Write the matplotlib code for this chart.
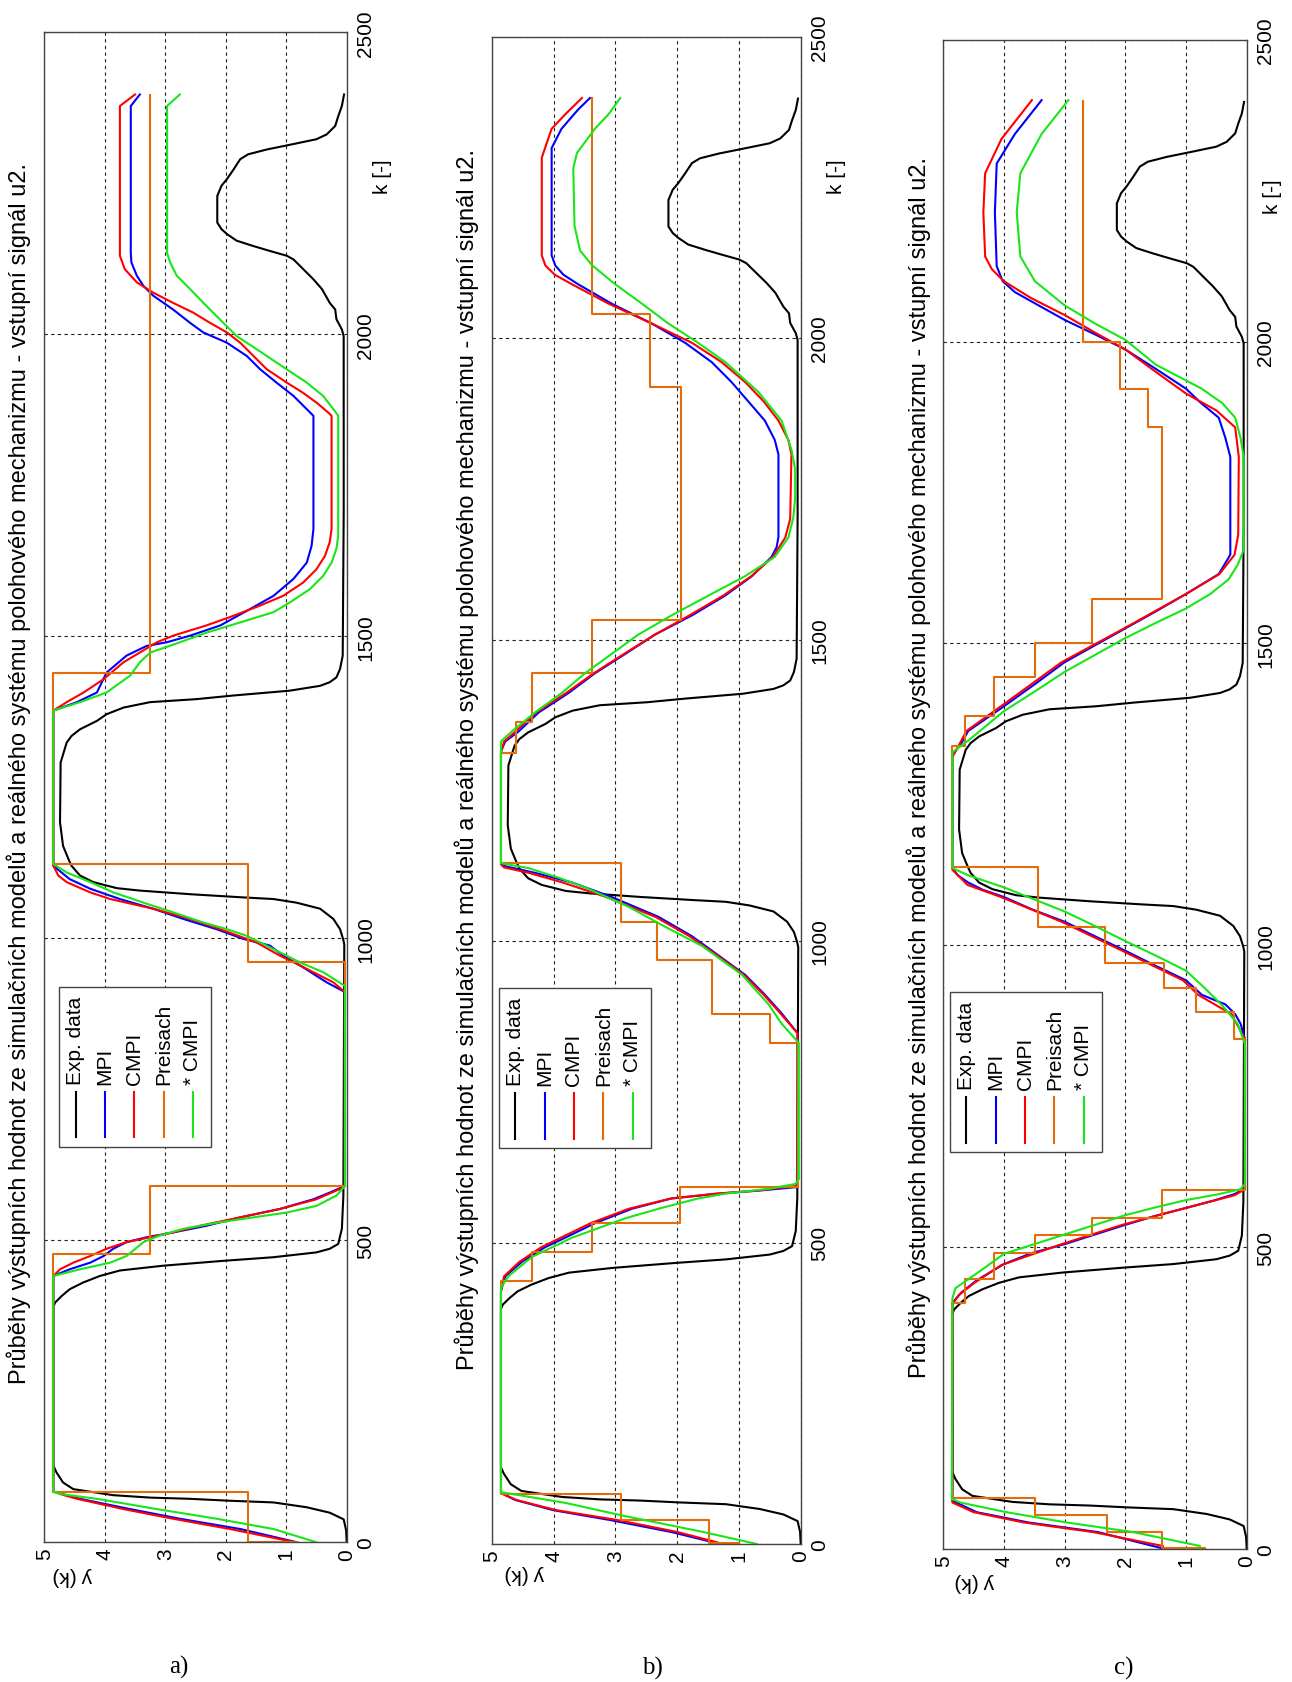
import matplotlib
matplotlib.use("Agg")
import matplotlib.pyplot as plt
import numpy as np
from matplotlib.lines import Line2D
from matplotlib.patches import Rectangle

W, H = 1292, 1683

title = ("Průběhy výstupních hodnot ze simulačních modelů a reálného systému "
         "polohového mechanizmu - vstupní signál u2.")
legend_names = ["Exp. data", "MPI", "CMPI", "Preisach", "* CMPI"]
y_ticks = [0, 1, 2, 3, 4, 5]
k_ticks = [0, 500, 1000, 1500, 2000, 2500]
panel_tags = ["a)", "b)", "c)"]

# measured response (same in all three panels): (k, y)
exp_data = [(0, 0.0), (20, 0.01), (38, 0.05), (49, 0.28), (58, 0.66), (66, 1.21), (69, 1.98),
            (72, 2.59), (74, 3.25), (78, 3.86), (83, 4.19), (88, 4.52), (99, 4.69), (116, 4.8),
            (127, 4.85), (390, 4.85), (397, 4.82), (408, 4.71), (419, 4.58), (430, 4.36),
            (441, 4.08), (450, 3.75), (458, 3.03), (466, 2.04), (472, 1.21), (480, 0.5),
            (486, 0.28), (494, 0.14), (519, 0.08), (574, 0.055), (990, 0.04), (999, 0.06),
            (1015, 0.11), (1032, 0.22), (1049, 0.44), (1059, 0.83), (1065, 1.21), (1068, 1.76),
            (1070, 2.09), (1073, 2.59), (1079, 3.42), (1083, 3.8), (1093, 4.19), (1104, 4.41),
            (1120, 4.55), (1131, 4.6), (1153, 4.69), (1192, 4.74), (1291, 4.73), (1324, 4.63),
            (1335, 4.55), (1346, 4.41), (1360, 4.13), (1371, 3.97), (1382, 3.69), (1391, 3.25),
            (1396, 2.48), (1402, 1.87), (1410, 0.94), (1418, 0.44), (1424, 0.28), (1432, 0.17),
            (1446, 0.11), (1468, 0.066), (1700, 0.05), (1997, 0.05), (2008, 0.08), (2025, 0.17),
            (2041, 0.19), (2052, 0.28), (2075, 0.41), (2091, 0.55), (2108, 0.72), (2124, 0.88),
            (2130, 0.99), (2138, 1.27), (2146, 1.54), (2155, 1.82), (2166, 1.98), (2174, 2.07),
            (2185, 2.14), (2229, 2.14), (2246, 2.07), (2257, 1.98), (2273, 1.87), (2290, 1.76),
            (2298, 1.63), (2306, 1.32), (2315, 0.88), (2323, 0.5), (2331, 0.33), (2345, 0.19),
            (2361, 0.14), (2378, 0.08), (2397, 0.044)]

# panel a)
a_mpi = [(0, 0.82), (22, 1.76), (39, 2.76), (55, 3.58), (72, 4.41), (84, 4.85), (441, 4.85),
         (452, 4.58), (463, 4.24), (474, 4.02), (486, 3.86), (497, 3.64), (505, 3.31), (513, 2.87),
         (524, 2.32), (538, 1.76), (552, 1.1), (568, 0.55), (579, 0.28), (590, 0.03), (911, 0.03),
         (927, 0.33), (955, 0.77), (971, 1.05), (988, 1.27), (999, 1.71), (1015, 2.15), (1032, 2.7),
         (1049, 3.2), (1065, 3.75), (1082, 4.24), (1098, 4.58), (1120, 4.85), (1377, 4.85),
         (1391, 4.46), (1407, 4.13), (1440, 3.97), (1468, 3.64), (1484, 3.31), (1490, 2.98),
         (1501, 2.59), (1518, 2.09), (1545, 1.6), (1567, 1.21), (1595, 0.88), (1622, 0.66),
         (1650, 0.58), (1678, 0.55), (1865, 0.55), (1876, 0.66), (1898, 0.88), (1920, 1.16),
         (1942, 1.43), (1964, 1.65), (1986, 1.98), (2003, 2.37), (2019, 2.59), (2041, 2.87),
         (2064, 3.2), (2080, 3.36), (2097, 3.47), (2119, 3.56), (2135, 3.57), (2378, 3.57),
         (2397, 3.42)]
a_cmpi = [(0, 0.85), (22, 1.93), (39, 2.87), (55, 3.69), (72, 4.46), (80, 4.74), (84, 4.85),
          (441, 4.85), (452, 4.74), (463, 4.52), (474, 4.24), (486, 3.97), (497, 3.64), (505, 3.25),
          (513, 2.87), (524, 2.43), (538, 1.76), (552, 1.1), (568, 0.5), (585, 0.11), (590, 0.03),
          (911, 0.03), (927, 0.22), (955, 0.77), (971, 1.1), (993, 1.49), (1015, 2.09), (1032, 2.59),
          (1049, 3.2), (1065, 3.91), (1076, 4.24), (1093, 4.63), (1104, 4.77), (1120, 4.85),
          (1377, 4.85), (1391, 4.63), (1407, 4.35), (1429, 4.02), (1457, 3.69), (1490, 3.14),
          (1501, 2.87), (1518, 2.32), (1534, 1.87), (1551, 1.43), (1567, 1.05), (1589, 0.72),
          (1611, 0.5), (1633, 0.36), (1656, 0.28), (1678, 0.25), (1865, 0.25), (1870, 0.3),
          (1887, 0.5), (1903, 0.72), (1920, 0.99), (1942, 1.32), (1964, 1.54), (1986, 1.76),
          (2003, 1.98), (2019, 2.26), (2036, 2.54), (2052, 2.87), (2069, 3.2), (2086, 3.47),
          (2108, 3.67), (2130, 3.75), (2378, 3.75), (2397, 3.5)]
a_star = [(0, 0.5), (22, 1.21), (39, 2.15), (55, 3.14), (72, 4.13), (80, 4.74), (84, 4.85),
          (441, 4.85), (452, 4.41), (463, 3.91), (474, 3.64), (497, 3.36), (508, 3.09), (519, 2.7),
          (530, 2.09), (538, 1.54), (546, 0.99), (557, 0.5), (574, 0.17), (590, 0.03), (921, 0.03),
          (944, 0.39), (960, 0.77), (982, 1.21), (1004, 1.65), (1015, 1.98), (1026, 2.37),
          (1043, 2.87), (1059, 3.36), (1076, 3.86), (1093, 4.24), (1109, 4.63), (1123, 4.85),
          (1377, 4.85), (1391, 4.41), (1407, 3.97), (1435, 3.58), (1457, 3.42), (1473, 3.25),
          (1490, 2.76), (1506, 2.32), (1523, 1.76), (1540, 1.21), (1556, 0.94), (1578, 0.61),
          (1600, 0.39), (1622, 0.25), (1645, 0.17), (1667, 0.14), (1865, 0.14), (1876, 0.22),
          (1898, 0.39), (1920, 0.66), (1942, 0.99), (1964, 1.32), (1986, 1.65), (1997, 1.82),
          (2008, 1.93), (2030, 2.15), (2052, 2.37), (2075, 2.59), (2097, 2.81), (2119, 2.92),
          (2135, 2.97), (2378, 2.97), (2397, 2.76)]
a_pre = [(0, 0.82), (1, 1.63), (84, 4.85), (477, 3.25), (590, 0.03), (960, 1.63), (1123, 4.85),
         (1439, 3.25), (2397, 3.25)]

# panel b)
b_mpi = [(0, 1.3), (20, 2.1), (40, 3.1), (56, 4.0), (73, 4.62), (85, 4.85), (420, 4.85),
         (444, 4.78), (468, 4.51), (492, 4.14), (508, 3.81), (532, 3.33), (556, 2.73), (573, 2.09),
         (581, 1.33), (586, 0.68), (592, 0.05), (847, 0.05), (879, 0.3), (911, 0.58), (944, 0.9),
         (976, 1.33), (1008, 1.76), (1040, 2.3), (1073, 3.06), (1097, 3.7), (1113, 4.3),
         (1124, 4.78), (1129, 4.85), (1315, 4.85), (1331, 4.78), (1347, 4.57), (1379, 4.24),
         (1411, 3.76), (1444, 3.33), (1476, 2.84), (1508, 2.36), (1540, 1.76), (1573, 1.22),
         (1605, 0.79), (1637, 0.47), (1653, 0.39), (1670, 0.36), (1807, 0.36), (1831, 0.42),
         (1863, 0.58), (1895, 0.85), (1927, 1.12), (1960, 1.44), (1992, 1.87), (2024, 2.41),
         (2057, 3.06), (2089, 3.6), (2105, 3.84), (2120, 3.97), (2137, 4.03), (2315, 4.03),
         (2347, 3.87), (2379, 3.6), (2398, 3.41)]
b_cmpi = [(0, 1.25), (20, 2.0), (40, 2.98), (56, 3.95), (73, 4.6), (84, 4.85), (418, 4.85),
          (444, 4.8), (468, 4.55), (492, 4.2), (508, 3.88), (532, 3.4), (556, 2.78), (573, 2.1),
          (581, 1.38), (586, 0.72), (594, 0.05), (847, 0.05), (879, 0.32), (911, 0.6), (944, 0.92),
          (976, 1.35), (1008, 1.8), (1040, 2.35), (1073, 3.15), (1097, 3.85), (1113, 4.4),
          (1122, 4.8), (1127, 4.85), (1312, 4.85), (1331, 4.8), (1347, 4.62), (1379, 4.28),
          (1411, 3.8), (1444, 3.35), (1476, 2.86), (1508, 2.36), (1540, 1.8), (1573, 1.25),
          (1605, 0.8), (1637, 0.45), (1669, 0.25), (1700, 0.17), (1807, 0.15), (1831, 0.2),
          (1863, 0.36), (1895, 0.6), (1927, 0.9), (1960, 1.28), (1992, 1.76), (2024, 2.41),
          (2057, 3.11), (2089, 3.7), (2105, 3.98), (2120, 4.13), (2137, 4.19), (2299, 4.19),
          (2347, 4.03), (2371, 3.81), (2398, 3.54)]
b_star = [(0, 0.71), (20, 1.58), (46, 2.83), (68, 3.8), (86, 4.85), (425, 4.85), (444, 4.73),
          (476, 4.35), (508, 3.7), (524, 3.27), (540, 2.84), (556, 2.3), (573, 1.66), (581, 1.22),
          (589, 0.52), (597, 0.09), (605, 0.03), (831, 0.03), (863, 0.31), (895, 0.52), (944, 0.95),
          (992, 1.6), (1024, 2.2), (1057, 2.79), (1089, 3.49), (1105, 3.92), (1121, 4.41),
          (1129, 4.85), (1331, 4.85), (1347, 4.68), (1379, 4.3), (1411, 3.87), (1444, 3.49),
          (1476, 3.06), (1508, 2.63), (1540, 2.09), (1573, 1.49), (1605, 0.9), (1637, 0.42),
          (1669, 0.2), (1702, 0.12), (1734, 0.09), (1782, 0.09), (1815, 0.15), (1863, 0.31),
          (1911, 0.69), (1960, 1.22), (1992, 1.66), (2024, 2.14), (2057, 2.57), (2089, 3.0),
          (2121, 3.38), (2145, 3.57), (2186, 3.66), (2282, 3.68), (2307, 3.62), (2347, 3.33),
          (2371, 3.11), (2398, 2.92)]
b_pre = [(0, 1.0), (1, 1.48), (39, 2.91), (83, 4.85), (436, 4.35), (484, 3.38), (532, 1.95),
         (592, 0.04), (831, 0.5), (879, 1.44), (968, 2.33), (1032, 2.9), (1129, 4.85), (1311, 4.6),
         (1363, 4.35), (1444, 3.38), (1532, 1.93), (1919, 2.44), (2040, 3.38), (2398, 3.38)]

# panel c)
c_mpi = [(0, 1.35), (28, 2.45), (44, 3.6), (61, 4.45), (80, 4.85), (408, 4.85), (425, 4.7),
         (445, 4.45), (472, 4.0), (490, 3.55), (505, 3.0), (521, 2.5), (537, 2.0), (552, 1.5),
         (565, 1.0), (577, 0.55), (588, 0.2), (597, 0.03), (845, 0.03), (870, 0.1), (886, 0.19),
         (902, 0.35), (918, 0.74), (942, 1.0), (966, 1.5), (991, 2.0), (1015, 2.5), (1039, 3.0),
         (1060, 3.55), (1080, 4.0), (1092, 4.35), (1104, 4.59), (1116, 4.76), (1128, 4.85),
         (1315, 4.85), (1335, 4.7), (1355, 4.59), (1396, 4.0), (1432, 3.5), (1469, 3.0),
         (1497, 2.5), (1525, 2.0), (1553, 1.5), (1582, 1.0), (1615, 0.46), (1647, 0.27),
         (1809, 0.27), (1840, 0.35), (1874, 0.46), (1898, 0.75), (1922, 1.0), (1955, 1.5),
         (1987, 2.0), (2012, 2.5), (2036, 3.0), (2064, 3.5), (2082, 3.82), (2100, 4.02),
         (2125, 4.12), (2214, 4.15), (2295, 4.12), (2344, 3.82), (2400, 3.38)]
c_cmpi = [(0, 1.38), (5, 1.38), (28, 2.53), (44, 3.68), (61, 4.5), (77, 4.85), (405, 4.85),
          (420, 4.75), (440, 4.5), (470, 4.05), (505, 3.05), (537, 2.05), (565, 1.0), (586, 0.2),
          (596, 0.03), (845, 0.03), (886, 0.25), (918, 0.8), (942, 1.05), (991, 2.05), (1039, 3.05),
          (1080, 4.05), (1100, 4.6), (1125, 4.85), (1312, 4.85), (1330, 4.75), (1355, 4.62),
          (1396, 4.05), (1469, 3.05), (1525, 2.02), (1582, 1.0), (1615, 0.45), (1647, 0.2),
          (1680, 0.14), (1809, 0.13), (1858, 0.19), (1886, 0.5), (1914, 1.0), (1950, 1.5),
          (1987, 2.0), (2015, 2.5), (2044, 3.0), (2072, 3.55), (2100, 4.0), (2120, 4.2),
          (2141, 4.31), (2214, 4.34), (2279, 4.31), (2336, 4.04), (2400, 3.54)]
c_star = [(0, 0.77), (5, 0.77), (28, 1.87), (44, 2.97), (61, 3.96), (77, 4.72), (83, 4.86),
          (415, 4.85), (432, 4.8), (460, 4.4), (489, 4.0), (505, 3.5), (521, 3.0), (537, 2.5),
          (553, 2.0), (566, 1.5), (578, 1.0), (588, 0.45), (596, 0.1), (605, 0.03), (837, 0.03),
          (870, 0.15), (900, 0.4), (930, 0.7), (958, 1.0), (983, 1.5), (1007, 2.0), (1032, 2.5),
          (1056, 3.0), (1076, 3.5), (1096, 4.0), (1116, 4.59), (1128, 4.85), (1320, 4.85),
          (1339, 4.59), (1388, 4.0), (1420, 3.5), (1453, 3.0), (1481, 2.5), (1509, 2.0),
          (1534, 1.5), (1558, 1.0), (1582, 0.6), (1606, 0.3), (1630, 0.15), (1655, 0.05),
          (1809, 0.05), (1840, 0.1), (1874, 0.19), (1898, 0.4), (1922, 0.74), (1962, 1.5),
          (2003, 2.0), (2030, 2.5), (2060, 3.0), (2100, 3.49), (2141, 3.73), (2214, 3.79),
          (2279, 3.73), (2344, 3.38), (2400, 2.94)]
c_pre = [(0, 0.69), (1, 1.40), (28, 2.31), (56, 3.49), (84, 4.85), (408, 4.64), (448, 4.17),
         (490, 3.49), (520, 2.55), (549, 1.40), (594, 0.03), (845, 0.21), (890, 0.83), (930, 1.37),
         (970, 2.34), (1030, 3.44), (1129, 4.85), (1331, 4.64), (1380, 4.17), (1445, 3.49),
         (1500, 2.55), (1573, 1.40), (1858, 1.63), (1922, 2.08), (2000, 2.7), (2398, 2.7)]

colors = ["black", "#0000ff", "#ff0000", "#e46c0a", "#19e619"]

# pixel boxes (left, top, right, bottom) and text anchors
panels = [
    dict(box=(44.3, 33.3, 346.7, 1543.3), curves=(a_mpi, a_cmpi, a_pre, a_star),
         title=(19, 773), klab=(383, 177), ylab=(73, 1577), leg=(59.3, 987.7), tag=(179, 1667)),
    dict(box=(491.7, 37.5, 800.7, 1545.0), curves=(b_mpi, b_cmpi, b_pre, b_star),
         title=(467, 760), klab=(837, 177), ylab=(525, 1575), leg=(499, 989), tag=(652, 1668)),
    dict(box=(943.3, 40.8, 1246.7, 1550.0), curves=(c_mpi, c_cmpi, c_pre, c_star),
         title=(919, 768), klab=(1273, 197), ylab=(975, 1583), leg=(950, 993), tag=(1124, 1668)),
]

plt.rcParams['font.family'] = ['Liberation Sans', 'DejaVu Sans']
fig = plt.figure(figsize=(W / 100, H / 100), dpi=100)


def fx(px):
    return px / W


def fy(py):
    return 1 - py / H


def steps(pairs):
    k = np.array([p[0] for p in pairs], float)
    v = np.array([p[1] for p in pairs], float)
    return np.repeat(v, 2)[:-1], np.repeat(k, 2)[1:]


for p in panels:
    x0, y0, x1, y1 = p["box"]
    ax = fig.add_axes([fx(x0), fy(y1), (x1 - x0) / W, (y1 - y0) / H])
    ax.set_xlim(5, 0)
    ax.set_ylim(0, 2500)
    for s in ax.spines.values():
        s.set_color("#444444")
        s.set_linewidth(1.0)
    ax.grid(True, color="#222222", linestyle=(0, (3, 3)), linewidth=0.8)
    ax.set_axisbelow(True)

    mpi, cmpi, pre, star = p["curves"]
    ax.plot([v for _, v in exp_data], [k for k, _ in exp_data], color=colors[0], lw=1.5)
    ax.plot([v for _, v in mpi], [k for k, _ in mpi], color=colors[1], lw=1.5)
    ax.plot([v for _, v in cmpi], [k for k, _ in cmpi], color=colors[2], lw=1.5)
    sx, sy = steps(pre)
    ax.plot(sx, sy, color=colors[3], lw=1.5)
    ax.plot([v for _, v in star], [k for k, _ in star], color=colors[4], lw=1.5)

    ax.set_xticks(y_ticks)
    ax.set_xticklabels([str(t) for t in y_ticks], rotation=90, fontsize=15)
    ax.yaxis.tick_right()
    ax.set_yticks(k_ticks)
    ax.set_yticklabels([str(t) for t in k_ticks], rotation=90, fontsize=15, va="center")
    ax.tick_params(axis="x", length=0, pad=4)
    ax.tick_params(axis="y", length=0, pad=7)

    tx, ty = p["title"]
    fig.text(fx(tx), fy(ty), title, rotation=90, ha="center", va="center", fontsize=17)
    kx, ky = p["klab"]
    fig.text(fx(kx), fy(ky), "k [-]", rotation=90, ha="center", va="center", fontsize=15)
    lx, ly = p["ylab"]
    fig.text(fx(lx), fy(ly), "y (k)", rotation=180, ha="center", va="center", fontsize=15)

    # legend box, drawn rotated like the rest of the panel
    bx, by = p["leg"]
    fig.add_artist(Rectangle((fx(bx), fy(by + 160)), 152 / W, 160 / H, transform=fig.transFigure,
                             facecolor="white", edgecolor="#444444", lw=1.0, zorder=5))
    for i, name in enumerate(legend_names):
        cx = bx + 16.4 + 29.3 * i
        fig.add_artist(Line2D([fx(cx), fx(cx)], [fy(by + 105), fy(by + 150.6)],
                              transform=fig.transFigure, color=colors[i], lw=1.5, zorder=6))
        fig.text(fx(cx), fy(by + 97), name, rotation=90, ha="center", va="bottom",
                 fontsize=15, zorder=6)

for p, tag in zip(panels, panel_tags):
    gx, gy = p["tag"]
    fig.text(fx(gx), fy(gy), tag, ha="center", va="center", fontsize=18,
             family=["Liberation Serif", "DejaVu Serif"])

fig.savefig("out.png", dpi=100)
